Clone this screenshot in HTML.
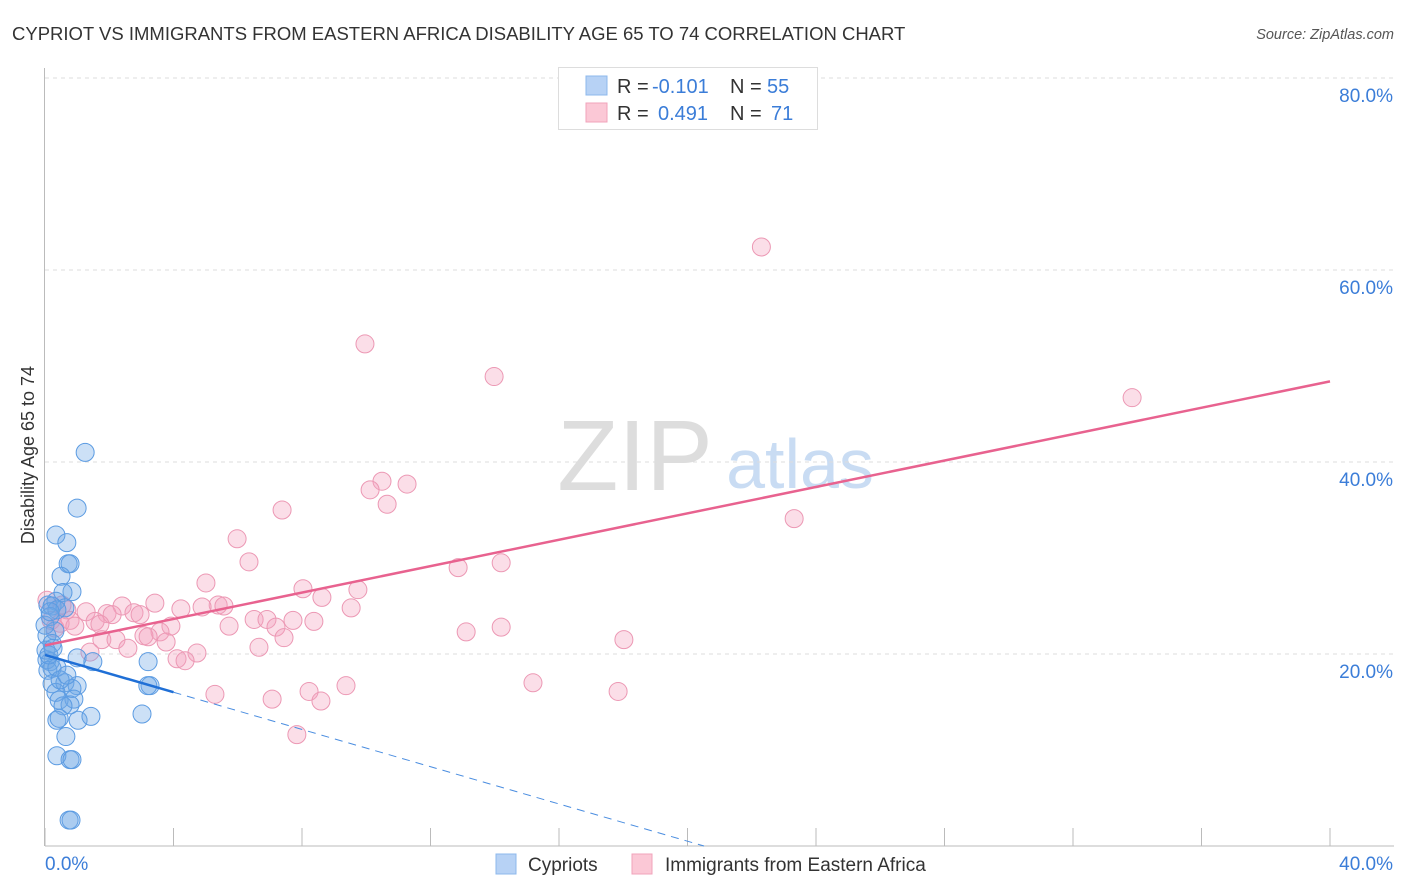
<!DOCTYPE html>
<html><head><meta charset="utf-8"><style>
body{margin:0;background:#fff;font-family:"Liberation Sans",sans-serif;}
#wrap{position:relative;width:1406px;height:892px;overflow:hidden;}
svg text{font-family:"Liberation Sans",sans-serif;}
</style></head><body>
<div id="wrap">
<svg id="chart" width="1406" height="892">
<text x="12" y="40" font-size="18.5" fill="#333">CYPRIOT VS IMMIGRANTS FROM EASTERN AFRICA DISABILITY AGE 65 TO 74 CORRELATION CHART</text>
<text x="1394" y="39" font-size="14.5" fill="#555" font-style="italic" text-anchor="end">Source: ZipAtlas.com</text>
<g>
<text x="635" y="490" font-size="100" fill="#ddd" font-family="Liberation Serif,serif" text-anchor="middle">ZIP</text>
<text x="800" y="488" font-size="70" fill="#c9dcf3" text-anchor="middle">atlas</text>
</g>
<g id="grid"></g>
<g id="axes"></g>
<g id="marks"></g>
<text transform="translate(34,455) rotate(-90)" font-size="18" fill="#333" text-anchor="middle">Disability Age 65 to 74</text>
<g>
<rect x="558.5" y="67.5" width="259" height="62" fill="#fff" stroke="#ddd"/>
<rect x="586" y="76" width="21" height="19" fill="#b7d2f5" stroke="#8db8ec"/>
<rect x="586" y="103" width="21" height="19" fill="#fbc8d6" stroke="#f0a3bb"/>
<text x="617" y="93" font-size="20" fill="#333">R =</text>
<text x="652" y="93" font-size="20" fill="#3b7dd8">-0.101</text>
<text x="730" y="93" font-size="20" fill="#333">N =</text>
<text x="767" y="93" font-size="20" fill="#3b7dd8">55</text>
<text x="617" y="120" font-size="20" fill="#333">R =</text>
<text x="658" y="120" font-size="20" fill="#3b7dd8">0.491</text>
<text x="730" y="120" font-size="20" fill="#333">N =</text>
<text x="771" y="120" font-size="20" fill="#3b7dd8">71</text>
</g>
<g>
<rect x="496" y="854" width="20" height="20" fill="#b7d2f5" stroke="#8db8ec"/>
<text x="528" y="871" font-size="19" fill="#333">Cypriots</text>
<rect x="632" y="854" width="20" height="20" fill="#fbc8d6" stroke="#f0a3bb"/>
<text x="665" y="871" font-size="19" fill="#333">Immigrants from Eastern Africa</text>
</g>
</svg>
</div>
<script>
const yTicks=[20,40,60,80];
const yTickLabels=["20.0%","40.0%","60.0%","80.0%"];
const xTicks=[0,4,8,12,16,20,24,28,32,36,40];
const xEndLabels=["0.0%","40.0%"];
const blueX=[1.25,1.0,0.34,0.68,0.72,0.78,0.5,0.84,0.56,0.34,0.09,0.22,0.62,0.37,0.16,0.31,0.06,0.22,0.06,0.16,0.22,0.09,0.37,1.0,1.49,3.21,0.22,0.62,1.0,0.84,0.34,0.44,0.9,3.27,3.2,0.78,0.56,0.37,0.44,1.03,1.43,3.02,0.65,0.37,0.78,0.84,0.75,0.81,0,0.03,0.12,0.47,0.68,0.25,0.16];
const blueY=[41.0,35.2,32.4,31.6,29.4,29.4,28.1,26.5,26.4,25.5,25.1,25.0,24.8,24.6,23.9,22.4,21.9,21.1,19.4,19.2,18.5,18.3,18.6,19.6,19.2,19.2,16.9,17.0,16.7,16.4,16.0,15.2,15.3,16.7,16.7,14.7,14.6,13.1,13.3,13.1,13.5,13.75,11.4,9.4,9.0,9.0,2.7,2.7,23.0,20.4,19.9,17.3,17.8,20.6,24.4];
const pinkX=[22.3,9.96,13.98,33.84,10.49,10.12,11.27,10.65,7.38,23.32,5.98,6.35,12.86,14.2,5.01,8.03,9.74,8.62,3.42,2.4,0.53,4.23,5.39,4.89,5.57,9.53,1.28,1.93,2.77,2.96,6.51,6.91,7.72,8.37,1.56,0.78,0.19,3.92,5.73,7.19,3.58,3.08,13.11,14.2,1.77,2.21,3.21,7.44,18.02,3.77,2.58,6.66,1.4,4.73,4.11,4.36,5.29,15.19,9.37,17.84,8.22,7.07,8.59,7.84,0.47,0.31,0.93,0.68,0.06,2.09,1.71];
const pinkY=[62.4,52.3,48.9,46.7,38.0,37.1,37.7,35.6,35.0,34.1,32.0,29.6,29.0,29.5,27.4,26.8,26.7,25.9,25.3,25.0,25.1,24.7,25.1,24.9,25.0,24.8,24.4,24.2,24.3,24.1,23.6,23.6,23.5,23.4,23.4,23.5,23.5,22.9,22.9,22.8,22.3,21.9,22.3,22.8,21.5,21.5,21.8,21.7,21.5,21.25,20.6,20.7,20.2,20.1,19.5,19.3,15.8,17.0,16.7,16.1,16.1,15.3,15.1,11.6,23.2,22.7,22.9,24.6,25.6,24.1,23.1];
const pinkTrend=[20.9,48.4];
const blueTrend=[19.9,-0.97];
const NS="http://www.w3.org/2000/svg";
const X=v=>45+v/40*1285;
const Y=v=>846-v*9.6;
function mk(tag,attrs,parent){const e=document.createElementNS(NS,tag);for(const k in attrs)e.setAttribute(k,attrs[k]);parent.appendChild(e);return e;}
const grid=document.getElementById('grid'),axes=document.getElementById('axes'),marks=document.getElementById('marks');
yTicks.forEach((t,i)=>{
 const l=mk('line',{x1:45,x2:1394,y1:Y(t),y2:Y(t),stroke:'#ddd','stroke-dasharray':'4,4'},grid);
 
 
 const tx=mk('text',{x:1393,y:Y(t)+24,'font-size':19,fill:'#3b7dd8','text-anchor':'end'},axes);
 tx.textContent=yTickLabels[i];
 
 
});
const ax=mk('line',{x1:45,x2:1394,y1:846,y2:846,stroke:'#bbb'},axes);


const ay=mk('line',{x1:44.5,x2:44.5,y1:68,y2:846,stroke:'#bbb'},axes);


xTicks.forEach(t=>{
 const l=mk('line',{x1:X(t),x2:X(t),y1:828,y2:846,stroke:'#bbb'},axes);
 
 
});
const xl0=mk('text',{x:45,y:870,'font-size':19,fill:'#3b7dd8'},axes);xl0.textContent=xEndLabels[0];


const xl1=mk('text',{x:1393,y:870,'font-size':19,fill:'#3b7dd8','text-anchor':'end'},axes);xl1.textContent=xEndLabels[1];


pinkX.forEach((v,i)=>{
 const c=mk('circle',{cx:X(v),cy:Y(pinkY[i]),r:9,fill:'rgba(244,160,188,0.35)',stroke:'#ec98b4','stroke-width':1},marks);
 
 
});
blueX.forEach((v,i)=>{
 const c=mk('circle',{cx:X(v),cy:Y(blueY[i]),r:9,fill:'rgba(110,165,230,0.35)',stroke:'#5b9be2','stroke-width':1},marks);
 
 
});
const pl=mk('line',{x1:X(0),y1:Y(pinkTrend[0]),x2:X(40),y2:Y(pinkTrend[1]),stroke:'#e8628f','stroke-width':2.5},marks);


const bEnd=-blueTrend[0]/blueTrend[1];
const bl=mk('line',{x1:X(0),y1:Y(blueTrend[0]),x2:X(4),y2:Y(blueTrend[0]+4*blueTrend[1]),stroke:'#1f6fd6','stroke-width':2.5},marks);


const bd=mk('line',{x1:X(4),y1:Y(blueTrend[0]+4*blueTrend[1]),x2:X(bEnd),y2:Y(0),stroke:'#4a8de0','stroke-width':1,'stroke-dasharray':'8,6'},marks);


</script>
</body></html>
